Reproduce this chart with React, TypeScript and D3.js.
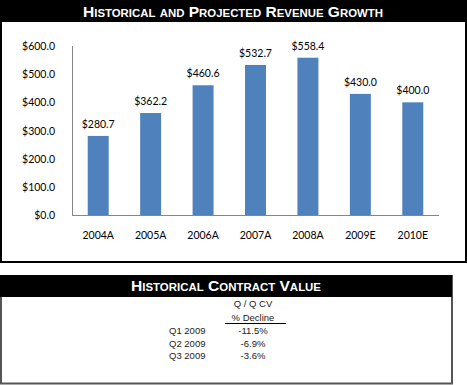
import * as d3 from 'd3'

const years: string[] = ['2004A', '2005A', '2006A', '2007A', '2008A', '2009E', '2010E']
const revenue: number[] = [280.7, 362.2, 460.6, 532.7, 558.4, 430.0, 400.0]
const yTicks: number[] = [0, 100, 200, 300, 400, 500, 600]

const quarters: string[] = ['Q1 2009', 'Q2 2009', 'Q3 2009']
const cvDecline: string[] = ['-11.5%', '-6.9%', '-3.6%']

const W = 467
const H = 385
const fmt = (v: number) => '$' + d3.format('.1f')(v)

export default function App() {
    const x = d3.scaleBand<string>()
        .domain(years)
        .range([72, 439])
        .paddingInner(0.6)
        .paddingOuter(0.3)
    const y = d3.scaleLinear().domain([0, 600]).range([215, 46])

    const head = { fill: '#fff', fontFamily: 'Liberation Sans, Arial, sans-serif', fontWeight: 700, fontVariant: 'small-caps' as const }
    const tbl = { fontFamily: 'Liberation Sans, Arial, sans-serif', fontSize: 9.5, fill: '#222' }
    const lbl = { fontFamily: 'Lato, sans-serif', fontSize: 10.5, fill: '#000' }

    return (
        <svg width={W} height={H} style={{ position: 'absolute', left: 0, top: 0, background: '#fff' }}>
            {/* revenue chart */}
            <rect x={1} y={1} width={465} height={261} fill="#fff" stroke="#000" strokeWidth={2} />
            <rect x={0} y={0} width={467} height={22} fill="#000" />
            <text x={233} y={17} textAnchor="middle" fontSize={15} textLength={300} lengthAdjust="spacingAndGlyphs" {...head}>
                Historical and Projected Revenue Growth
            </text>

            {yTicks.map(t => (
                <text key={t} x={55} y={y(t) + 4} textAnchor="end" {...lbl}>
                    {fmt(t)}
                </text>
            ))}

            {revenue.map((v, i) => (
                <g key={years[i]}>
                    <rect x={x(years[i])} y={y(v)} width={x.bandwidth()} height={y(0) - y(v)} fill="#4F81BD" />
                    <text x={(x(years[i]) as number) + x.bandwidth() / 2} y={y(v) - 8} textAnchor="middle" {...lbl}>
                        {fmt(v)}
                    </text>
                    <text x={(x(years[i]) as number) + x.bandwidth() / 2} y={239} textAnchor="middle" {...lbl}>
                        {years[i]}
                    </text>
                </g>
            ))}
            <line x1={72.5} x2={72.5} y1={46} y2={215} stroke="#868686" />
            <line x1={72} x2={439} y1={215.5} y2={215.5} stroke="#868686" />

            {/* contract value table */}
            <rect x={1} y={276} width={451} height={107.5} fill="#fff" stroke="#555" strokeWidth={2} />
            <rect x={0} y={275} width={452} height={22} fill="#000" />
            <text x={226} y={291} textAnchor="middle" fontSize={15} textLength={190} lengthAdjust="spacingAndGlyphs" {...head}>
                Historical Contract Value
            </text>
            <text x={253} y={307} textAnchor="middle" {...tbl}>Q / Q CV</text>
            <text x={253} y={321} textAnchor="middle" {...tbl}>% Decline</text>
            <line x1={225} x2={286} y1={323.5} y2={323.5} stroke="#000" />
            {quarters.map((q, i) => (
                <g key={q}>
                    <text x={169} y={334 + i * 12.5} {...tbl}>{q}</text>
                    <text x={253} y={334 + i * 12.5} textAnchor="middle" {...tbl}>{cvDecline[i]}</text>
                </g>
            ))}
        </svg>
    )
}
